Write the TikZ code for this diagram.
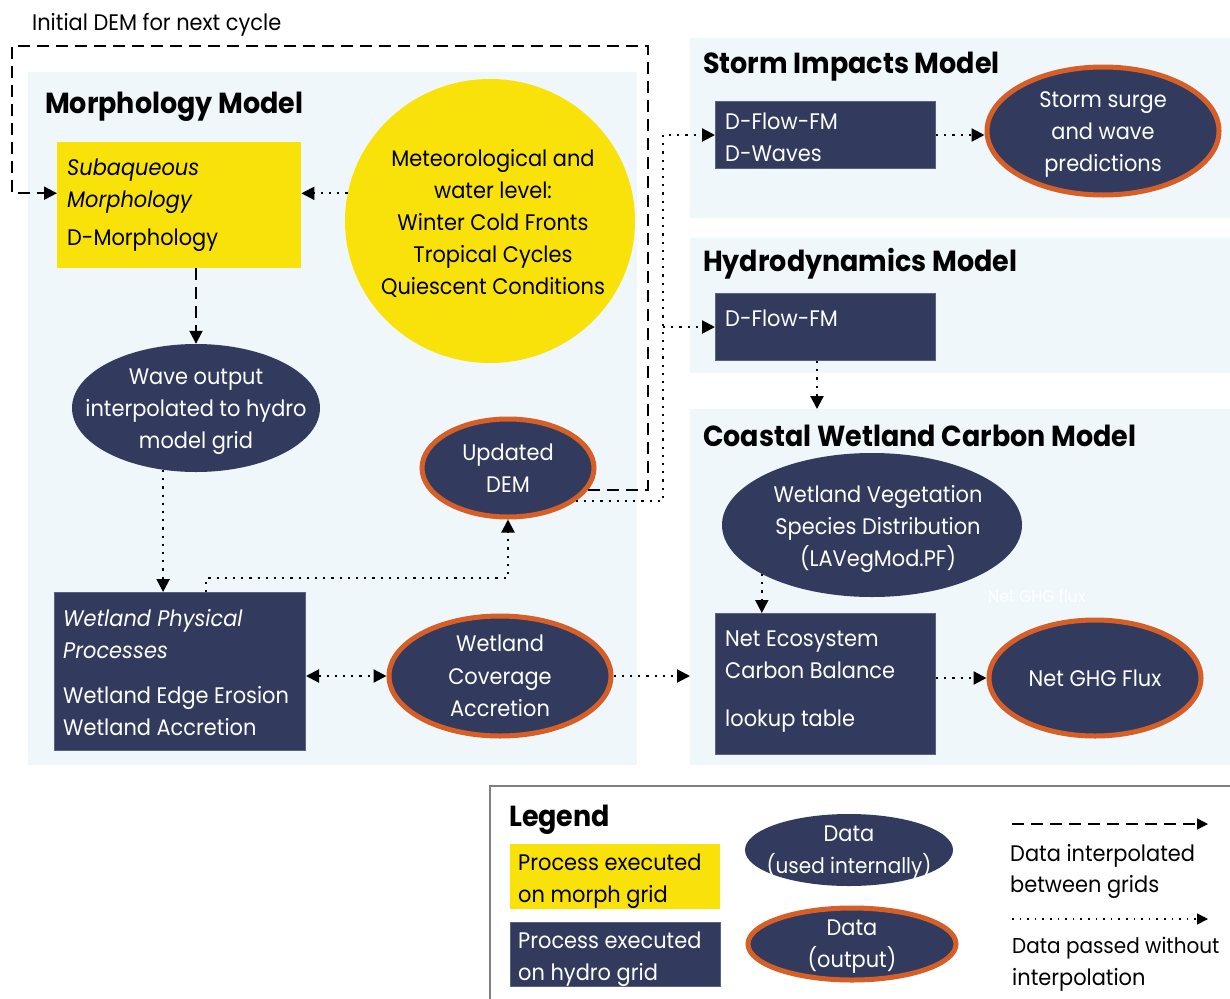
\documentclass[tikz,border=0pt]{standalone}
\usepackage{fontspec}
\setmainfont{Poppins}[FakeStretch=0.93]
\usetikzlibrary{arrows.meta,shapes.geometric}
\definecolor{navy}{HTML}{323B5E}
\definecolor{yel}{HTML}{F9E10A}
\definecolor{org}{HTML}{D65F28}
\definecolor{panelc}{HTML}{EFF7FB}
\begin{document}
\begin{tikzpicture}[x=1pt,y=-1pt,
  panelbox/.style={rectangle,fill=panelc,draw=none,anchor=north west,inner sep=0},
  ybox/.style={rectangle,fill=yel,draw=none,anchor=north west,inner sep=0},
  nbox/.style={rectangle,fill=navy,draw=navy!80!white,line width=1pt,anchor=north west,inner sep=0},
  ydat/.style={ellipse,fill=yel,draw=none,inner sep=0},
  ndat/.style={ellipse,fill=navy,draw=none,inner sep=0},
  odat/.style={ellipse,fill=navy,draw=org,line width=5pt,inner sep=0},
  txt/.style={inner sep=0,text height=0.9em,text depth=0em,yshift=-4pt,font=\fontsize{22.5}{26}\selectfont},
  wtxt/.style={txt,text=white},
  stxt/.style={font=\fontsize{21.5}{25}\selectfont},
  ttl/.style={inner sep=0,anchor=west,text height=0.9em,text depth=0em,yshift=-6pt,font=\fontsize{29}{32}\selectfont\bfseries},
  dsh/.style={line width=2pt,dash pattern=on 12pt off 7pt},
  dtt/.style={line width=2.2pt,dash pattern=on 2.2pt off 6pt},
  tip/.style={-{Triangle[length=13pt,width=13pt]}},
  tipb/.style={{Triangle[length=13pt,width=13pt]}-{Triangle[length=13pt,width=13pt]}},
  ltip/.style={-{Triangle[length=11pt,width=11pt]}}
]
\useasboundingbox (0,0) rectangle (1230,998);
\fill[white] (0,0) rectangle (1230,998);

% panels
\node[panelbox,minimum width=609pt,minimum height=693pt] (morph) at (28,72) {};
\node[panelbox,minimum width=545pt,minimum height=180pt] (storm) at (690,38) {};
\node[panelbox,minimum width=545pt,minimum height=135pt] (hydro) at (690,238) {};
\node[panelbox,minimum width=545pt,minimum height=356pt] (coast) at (690,409) {};

% titles
\node[txt,anchor=west] (initt) at (32,22) {Initial DEM for next cycle};
\node[ttl] (morpht) at (45,103) {Morphology Model};
\node[ttl] (stormt) at (703,63) {Storm Impacts Model};
\node[ttl] (hydrot) at (703,261) {Hydrodynamics Model};
\node[ttl] (coastt) at (703,436) {Coastal Wetland Carbon Model};

% morphology nodes
\node[ybox,minimum width=244pt,minimum height=126pt] (sub) at (57,142) {};
\node[txt,anchor=west] (subt1) at (67,167) {\itshape Subaqueous};
\node[txt,anchor=west] (subt2) at (67,199) {\itshape Morphology};
\node[txt,anchor=west] (subt3) at (67,237) {D-Morphology};

\node[ydat,minimum width=290pt,minimum height=284pt] (met) at (490,221) {};
\node[txt] (mett1) at (493,158) {Meteorological and};
\node[txt] (mett2) at (493,190) {water level:};
\node[txt] (mett3) at (493,222) {Winter Cold Fronts};
\node[txt] (mett4) at (493,254) {Tropical Cycles};
\node[txt] (mett5) at (493,286) {Quiescent Conditions};

\node[ndat,minimum width=248pt,minimum height=128pt] (wave) at (196,408) {};
\node[wtxt] (wavet1) at (196,376) {Wave output};
\node[wtxt] (wavet2) at (196,408) {interpolated to hydro};
\node[wtxt] (wavet3) at (196,440) {model grid};

\node[odat,minimum width=172pt,minimum height=98pt] (dem) at (508,468) {};
\node[wtxt] (demt1) at (508,452) {Updated};
\node[wtxt] (demt2) at (508,484) {DEM};

\node[nbox,minimum width=251pt,minimum height=158pt] (wpp) at (54,592) {};
\node[wtxt,anchor=west] (wppt1) at (63,618) {\itshape Wetland Physical};
\node[wtxt,anchor=west] (wppt2) at (63,650) {\itshape Processes};
\node[wtxt,anchor=west] (wppt3) at (63,695) {Wetland Edge Erosion};
\node[wtxt,anchor=west] (wppt4) at (63,727) {Wetland Accretion};

\node[odat,minimum width=222pt,minimum height=120pt] (cov) at (500,676) {};
\node[wtxt] (covt1) at (500,643) {Wetland};
\node[wtxt] (covt2) at (500,676) {Coverage};
\node[wtxt] (covt3) at (500,708) {Accretion};

% storm
\node[nbox,minimum width=220pt,minimum height=67pt] (sbox) at (715,101) {};
\node[wtxt,anchor=west] (sboxt1) at (725,121) {D-Flow-FM};
\node[wtxt,anchor=west] (sboxt2) at (725,153) {D-Waves};
\node[odat,minimum width=232pt,minimum height=128pt] (sse) at (1103,131) {};
\node[wtxt] (sset1) at (1103,99) {Storm surge};
\node[wtxt] (sset2) at (1103,131) {and wave};
\node[wtxt] (sset3) at (1103,163) {predictions};

% hydro
\node[nbox,minimum width=220pt,minimum height=67pt] (hbox) at (715,293) {};
\node[wtxt,anchor=west] (hboxt) at (725,318) {D-Flow-FM};

% coast
\node[ndat,minimum width=300pt,minimum height=144pt] (veg) at (872,525) {};
\node[wtxt] (vegt1) at (878,494) {Wetland Vegetation};
\node[wtxt] (vegt2) at (878,526) {Species Distribution};
\node[wtxt] (vegt3) at (878,558) {(LAVegMod.PF)};
\node[inner sep=0,text=white,font=\fontsize{17}{19}\selectfont,anchor=west,text height=0.9em,text depth=0em,yshift=-3pt] (faint) at (988,595) {Net GHG flux};
\node[nbox,minimum width=220pt,minimum height=141pt] (neb) at (715,613) {};
\node[wtxt,anchor=west] (nebt1) at (725,638) {Net Ecosystem};
\node[wtxt,anchor=west] (nebt2) at (725,670) {Carbon Balance};
\node[wtxt,anchor=west] (nebt3) at (725,718) {lookup table};
\node[odat,minimum width=212pt,minimum height=116pt] (ghg) at (1095,678) {};
\node[wtxt] (ghgt) at (1095,678) {Net GHG Flux};

% connectors
\coordinate (cA) at (648,46);
\coordinate (cB) at (12,46);
\coordinate (cC) at (663,0);
\coordinate (cD) at (206,578);
\coordinate (cE) at (817,0);
\draw[dsh,tip] (dem.-15) -| (cA) -- (cB) |- ([yshift=12pt]sub.west);
\draw[dtt,tip] (met.169) -- (met.169 -| sub.east);
\draw[dsh,tip] (sub.south -| wave.north) -- (wave.north);
\draw[dtt,tip] (wave.242) -- (wave.242 |- wpp.north);
\draw[dtt,tip] (cD |- wpp.north) -- (cD) -| (dem.south);
\draw[dtt,tipb] (wpp.east |- cov.west) -- (cov.west);
\draw[dtt,tip] (cov.east) -- (cov.east -| coast.west);
\draw[dtt,tip] (dem.-26) -| (cC |- sbox.west) -- (sbox.west);
\draw[dtt,tip] (cC |- hbox.west) -- (hbox.west);
\draw[dtt,tip] (sbox.east) -- (sbox.east -| sse.west);
\draw[dtt,tip] (cE |- hbox.south) -- (cE |- coast.north);
\draw[dtt,tip] (veg.204) -- (veg.204 |- neb.north);
\draw[dtt,tip] (neb.east |- ghg.west) -- (ghg.west);

% legend
\draw[draw=gray,line width=1.5pt] (490,786) rectangle (1233,1001);
\node[ttl] (legt) at (509,816) {Legend};
\node[ybox,minimum width=210pt,minimum height=65pt] (ly) at (510,844) {};
\node[txt,anchor=west] (lyt1) at (518,862) {Process executed};
\node[txt,anchor=west] (lyt2) at (518,894) {on morph grid};
\node[nbox,minimum width=210pt,minimum height=64pt] (ln) at (510,922) {};
\node[wtxt,anchor=west] (lnt1) at (518,940) {Process executed};
\node[wtxt,anchor=west] (lnt2) at (518,972) {on hydro grid};
\node[ndat,minimum width=208pt,minimum height=72pt] (ld1) at (849,850) {};
\node[wtxt] (ld1t1) at (849,833) {Data};
\node[wtxt,stxt] (ld1t2) at (849,865) {(used internally)};
\node[odat,minimum width=208pt,minimum height=72pt] (ld2) at (852,944) {};
\node[wtxt] (ld2t1) at (852,927) {Data};
\node[wtxt] (ld2t2) at (852,959) {(output)};
\coordinate (la1) at (1012,824);
\coordinate (la2) at (1208,824);
\coordinate (lb1) at (1012,919);
\coordinate (lb2) at (1208,919);
\draw[dsh,ltip,line width=1.6pt] (la1) -- (la2);
\draw[dtt,ltip,line width=1.6pt,dash pattern=on 1.6pt off 6pt] (lb1) -- (lb2);
\node[txt,anchor=west] (lat1) at (1010,853) {Data interpolated};
\node[txt,anchor=west] (lat2) at (1010,884) {between grids};
\node[txt,stxt,anchor=west] (lbt1) at (1012,945) {Data passed without};
\node[txt,anchor=west] (lbt2) at (1012,977) {interpolation};
\end{tikzpicture}
\end{document}
